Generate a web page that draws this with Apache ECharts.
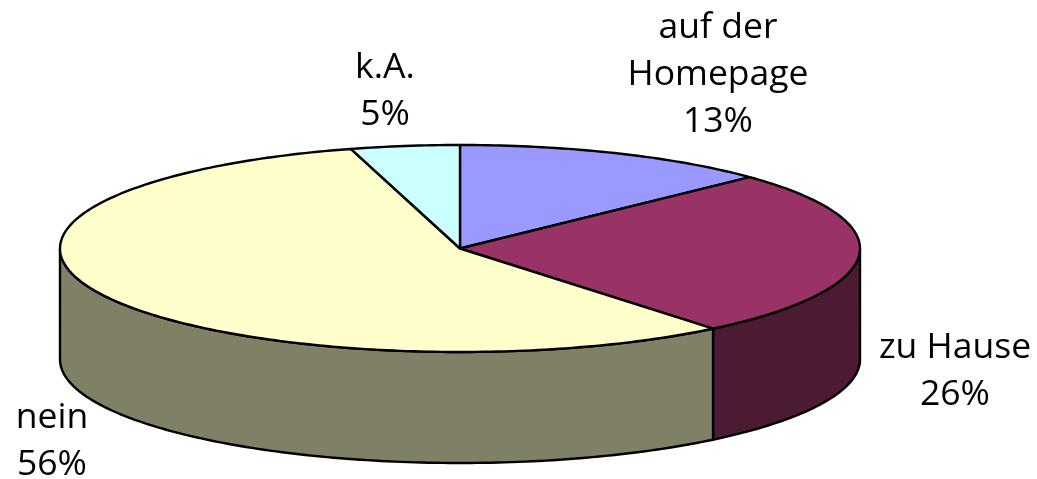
<!DOCTYPE html>
<html>
<head>
<meta charset="utf-8">
<style>
  html, body { margin: 0; padding: 0; background: #fff; }
  #chart { width: 1037px; height: 479px; }
</style>
</head>
<body>
<div id="chart"></div>
<script src="https://cdn.jsdelivr.net/npm/echarts@6/dist/echarts.min.js"></script>
<script>
// slices clockwise from 12 o'clock, sizes
const categories = ["auf der\nHomepage", "zu Hause", "nein", "k.A."];
const sliceValues = [12.9, 26.2, 56.5, 4.4];
const percentLabels = ["13%", "26%", "56%", "5%"];
const topColors = ["#9999FF", "#993366", "#FFFFCC", "#CCFFFF"];
const wallColors = ["#4D4D80", "#4D1A33", "#808066", "#668080"];

// where the pie and the labels sit
const cx = 460, cy = 248.5, rx = 400, ry = 103.5, depth = 111;
const labelCentres = [[718, 75], [955, 371], [52, 441], [385, 91]];

const total = sliceValues.reduce(function (a, b) { return a + b; }, 0);

function rim(deg, drop) {
  const a = deg * Math.PI / 180;
  return [cx + rx * Math.sin(a), cy - ry * Math.cos(a) + (drop || 0)];
}

function arc(from, to, drop) {
  const pts = [];
  const n = Math.max(2, Math.ceil(Math.abs(to - from)));
  for (let i = 0; i <= n; i++) {
    pts.push(rim(from + (to - from) * i / n, drop));
  }
  return pts;
}

function renderSlice(params, api) {
  const i = params.dataIndex;
  let before = 0;
  for (let k = 0; k < i; k++) before += sliceValues[k];
  const start = before / total * 360;
  const end = start + api.value(0) / total * 360;

  const children = [];

  // side wall only shows on the front half
  const wallFrom = Math.max(start, 90), wallTo = Math.min(end, 270);
  if (wallTo > wallFrom) {
    children.push({
      type: "polygon",
      z2: 1,
      shape: { points: arc(wallFrom, wallTo, 0).concat(arc(wallTo, wallFrom, depth)) },
      style: { fill: wallColors[i], stroke: "#000", lineWidth: 2.4 }
    });
  }

  children.push({
    type: "polygon",
    z2: 2,
    shape: { points: [[cx, cy]].concat(arc(start, end, 0)) },
    style: { fill: topColors[i], stroke: "#000", lineWidth: 2.4, lineJoin: "round" }
  });

  children.push({
    type: "text",
    z2: 3,
    style: {
      text: categories[i] + "\n" + percentLabels[i],
      x: labelCentres[i][0],
      y: labelCentres[i][1],
      align: "center",
      verticalAlign: "middle",
      fontFamily: "Open Sans",
      fontSize: 35.5,
      lineHeight: 47,
      fill: "#000"
    }
  });

  return { type: "group", children: children };
}

const myChart = echarts.init(document.getElementById("chart"), null, { renderer: "canvas" });

myChart.setOption({
  animation: false,
  backgroundColor: "#fff",
  series: [
    {
      type: "custom",
      coordinateSystem: "none",
      renderItem: renderSlice,
      data: sliceValues.map(function (v) { return [v]; })
    }
  ]
});
</script>
</body>
</html>
